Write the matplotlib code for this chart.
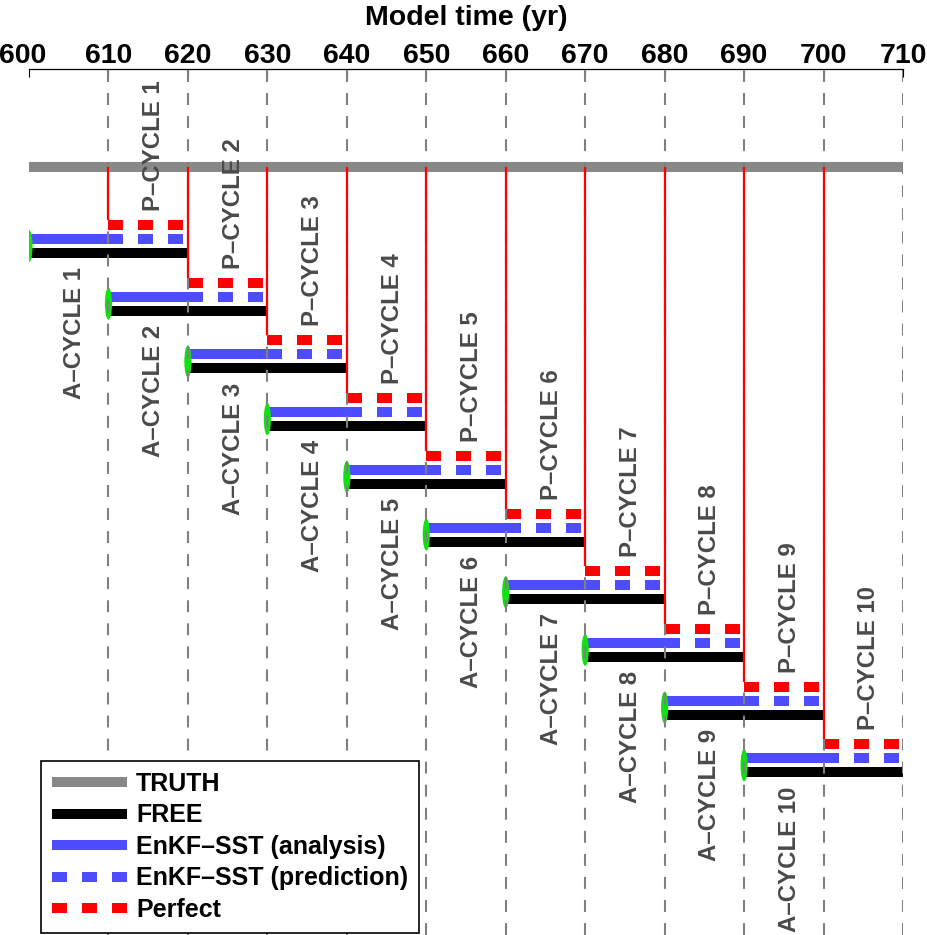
import matplotlib
matplotlib.use("Agg")
import matplotlib.pyplot as plt
from matplotlib.patches import Ellipse
import matplotlib.transforms as mtransforms

plt.rcParams['font.family'] = ['Liberation Sans', 'DejaVu Sans']
plt.rcParams['font.weight'] = 'bold'
plt.rcParams['lines.scale_dashes'] = False

# ---- data ----
cycles = [1, 2, 3, 4, 5, 6, 7, 8, 9, 10]
analysis_start = [600, 610, 620, 630, 640, 650, 660, 670, 680, 690]
cycle_length = 10            # years of analysis / prediction
truth_span = [600, 710]
xticks = [600, 610, 620, 630, 640, 650, 660, 670, 680, 690, 700, 710]
vlines = [610, 620, 630, 640, 650, 660, 670, 680, 690, 700, 710]
a_labels = ["A\u2013CYCLE %d" % c for c in cycles]
p_labels = ["P\u2013CYCLE %d" % c for c in cycles]
legend_labels = ["TRUTH", "FREE", "EnKF\u2013SST (analysis)",
                 "EnKF\u2013SST (prediction)", "Perfect"]

# ---- styles ----
C_TRUTH = '#888888'
C_FREE = 'black'
C_BLUE = '#4d4dff'
C_RED = '#ff0000'
C_GREEN = '#11e011'
C_GRID = '#808080'
C_TEXT = '#4a4a4a'
LW = 7.2
DASH = (10.8, 10.8)

W, H = 928, 935
fig = plt.figure(figsize=(W / 100, H / 100), dpi=100)
ax = fig.add_axes([29 / W, 0, (903 - 29) / W, (H - 69) / H])
ax.set_xlim(600, 710)
ax.set_ylim(H, 69)   # vertical layout in pixel-like units (inverted)

# vertical layout (positions, not data)
y_truth = 167
def y_red(i):
    return 225 + i * 57.7
def y_blue(i):
    return y_red(i) + 14
def y_black(i):
    return y_red(i) + 28

# truth
ax.plot(truth_span, [y_truth, y_truth], color=C_TRUTH, lw=LW,
        solid_capstyle='butt', zorder=2, label=legend_labels[0])

for i, (c, s) in enumerate(zip(cycles, analysis_start)):
    e = s + cycle_length
    p = e + cycle_length
    ax.plot([s, p], [y_black(i)] * 2, color=C_FREE, lw=LW,
            solid_capstyle='butt', zorder=2,
            label=legend_labels[1] if i == 0 else None)
    ax.plot([s, e], [y_blue(i)] * 2, color=C_BLUE, lw=LW,
            solid_capstyle='butt', zorder=2,
            label=legend_labels[2] if i == 0 else None)
    ax.plot([e, p], [y_blue(i)] * 2, color=C_BLUE, lw=LW,
            dashes=DASH, dash_capstyle='butt', zorder=2,
            label=legend_labels[3] if i == 0 else None)
    ax.plot([e, p], [y_red(i)] * 2, color=C_RED, lw=LW,
            dashes=DASH, dash_capstyle='butt', zorder=2,
            label=legend_labels[4] if i == 0 else None)
    ax.plot([e, e], [y_truth, y_red(i) - 5], color=C_RED, lw=1.6,
            solid_capstyle='butt', zorder=5)
    ax.add_patch(Ellipse((s, (y_blue(i) + y_black(i)) / 2), 0.9, 32,
                         facecolor=C_GREEN, edgecolor='none', zorder=3))
    ax.text(e + 5.7, y_red(i) - 14, p_labels[i], rotation=90,
            ha='center', va='bottom', fontsize=17.3, color=C_TEXT,
            fontweight='bold', zorder=6)
    ax.text(s + 5.7, y_black(i) + 14, a_labels[i], rotation=90,
            ha='center', va='top', fontsize=17.3, color=C_TEXT,
            fontweight='bold', zorder=6)

for v in vlines:
    ax.axvline(v, color=C_GRID, lw=1.5, dashes=(8.6, 8.0), zorder=4)

# axes styling
for sp in ['left', 'right', 'bottom']:
    ax.spines[sp].set_visible(False)
ax.spines['top'].set_linewidth(0.9)
ax.set_yticks([])
ax.set_xticks(xticks)
ax.xaxis.set_ticks_position('top')
ax.xaxis.set_label_position('top')
ax.tick_params(axis='x', direction='in', length=6, width=0.8, pad=0,
               labelsize=20.5)
for lab in ax.get_xticklabels():
    lab.set_fontweight('bold')
# first tick label nudged left to fit the figure edge
first = ax.get_xticklabels()[0]
first.set_transform(first.get_transform() +
                    mtransforms.ScaledTranslation(-6 / 100, 0, fig.dpi_scale_trans))
ax.set_xlabel("Model time (yr)", fontsize=20.5, fontweight='bold', labelpad=13)

leg = ax.legend(loc='lower left', bbox_to_anchor=(41 / W, 2 / H),
                bbox_transform=fig.transFigure, borderaxespad=0,
                fontsize=18, handlelength=3.0, handletextpad=0.35,
                labelspacing=0.3, borderpad=0.45, fancybox=False,
                framealpha=1, edgecolor='black')
leg.get_frame().set_linewidth(1.2)
leg.set_zorder(10)
for t in leg.get_texts():
    t.set_fontweight('bold')

fig.savefig("out.png", dpi=100)
